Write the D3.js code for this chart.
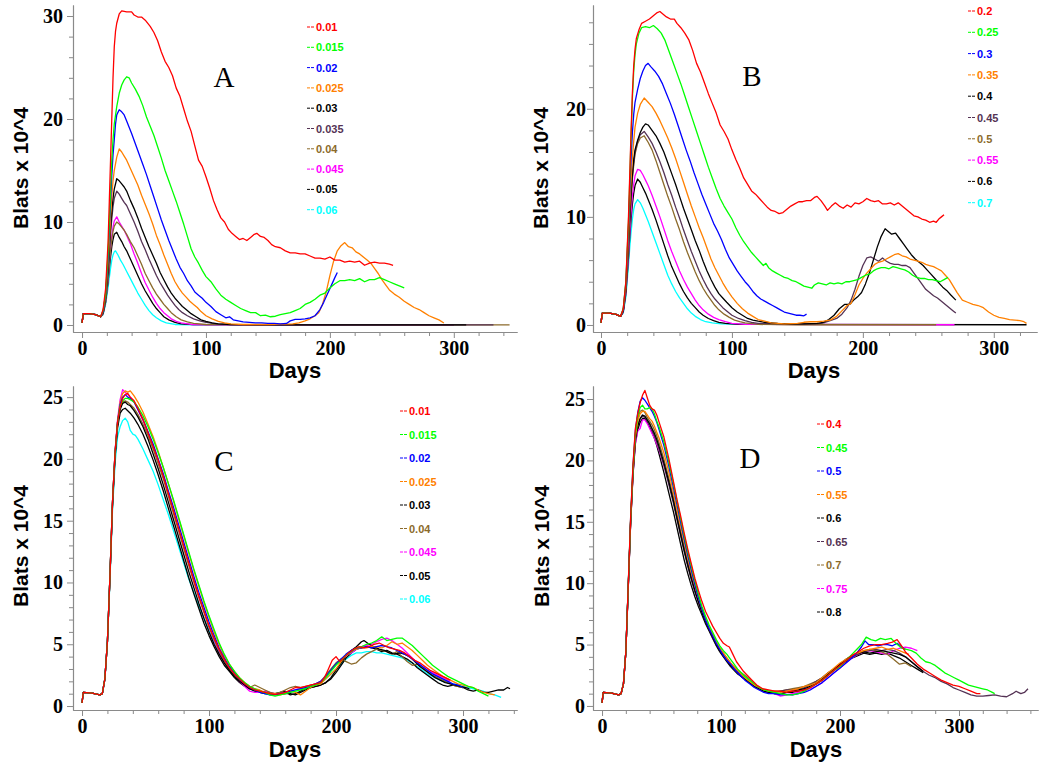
<!DOCTYPE html>
<html><head><meta charset="utf-8">
<script src="https://d3js.org/d3.v7.min.js"></script>
<style>
body{margin:0;background:#fff;}
svg{display:block;}
.tl{font-family:"Liberation Serif","Times New Roman",serif;font-weight:bold;font-size:20px;fill:#000;}
.ttl{font-family:"Liberation Sans",Arial,sans-serif;font-weight:bold;}
.lg{font-family:"Liberation Sans",Arial,sans-serif;font-weight:bold;font-size:11px;}
.let{font-family:"Liberation Serif","Times New Roman",serif;font-size:29px;}
</style></head><body>
<svg id="c" width="1050" height="771"></svg>
<script>
// ---------------- DATA ----------------
const xTicks = [0,100,200,300];
const xMinorAC = [20,40,60,80,120,140,160,180,220,240,260,280,320,340];
const xMinorB = [20,40,60,80,120,140,160,180,220,240,260,280,320];
const xMinorD = [20,40,60,80,120,140,160,180,220,240,260,280,320,340,360];
const yTicksA = [0,10,20,30];
const yTicksB = [0,10,20];
const yTicksCD = [0,5,10,15,20,25];
const yMinorA = [2,4,6,8,12,14,16,18,22,24,26,28];
const yMinorB = [2,4,6,8,12,14,16,18,22,24,26,28];
const yMinorCD = [1,2,3,4,6,7,8,9,11,12,13,14,16,17,18,19,21,22,23,24];

const labelsA = ["0.01","0.015","0.02","0.025","0.03","0.035","0.04","0.045","0.05","0.06"];
const labelsB = ["0.2","0.25","0.3","0.35","0.4","0.45","0.5","0.55","0.6","0.7"];
const labelsC = ["0.01","0.015","0.02","0.025","0.03","0.04","0.045","0.05","0.06"];
const labelsD = ["0.4","0.45","0.5","0.55","0.6","0.65","0.7","0.75","0.8"];

// shared initial segment (days 0-16)
const startAB = [[0,0.2],[1,1.1],[6,1.1],[11,1.0],[15,0.8]];
const startCD = [[0,0.25],[1,1.1],[8,1.05],[14,0.9],[16,1.0]];

// Panel A
const a1=[[17,1.5],[19,3.5],[21,8],[22,12],[23,16],[24,20],[25,24],[26,27],[27,28.5],[28,29.3],[30,30.2],[32,30.5],[36,30.4],[40,30.4],[42,30.1],[45,29.9],[48,29.9],[51,29.6],[55,29.0],[58,28.4],[61,27.6],[64,26.5],[67,25.6],[70,25.0],[73,24.2],[76,23.0],[79,22.2],[82,21.0],[85,19.8],[88,18.8],[91,17.4],[94,16.0],[97,15.4],[100,14.4],[103,13.3],[106,12.1],[109,11.2],[112,10.4],[115,10.0],[118,9.3],[121,8.9],[124,8.6],[127,8.3],[130,8.4],[133,8.2],[136,8.5],[139,8.8],[141,8.9],[144,8.6],[147,8.5],[150,8.2],[153,7.8],[156,7.6],[160,7.5],[164,7.2],[168,7.0],[172,7.0],[176,6.9],[180,6.9],[184,6.7],[188,6.5],[192,6.5],[196,6.4],[200,6.6],[204,6.3],[208,6.3],[212,6.1],[216,6.2],[220,6.1],[224,6.2],[228,5.8],[232,6.0],[236,6.1],[240,6.0],[244,6.0],[248,5.9],[251,5.8]];
const a2=[[17,1.4],[19,3],[21,7],[22,10],[23,13],[24,16],[25,18],[26,19.5],[28,21.2],[30,22.5],[32,23.3],[34,23.8],[36,24.1],[38,24.0],[40,23.5],[43,22.9],[46,22.2],[49,21.3],[52,20.2],[55,19.3],[58,18.4],[61,17.3],[64,16.2],[67,15.0],[70,14.0],[73,13.0],[76,12.0],[79,10.9],[82,9.8],[85,8.6],[88,7.4],[91,6.6],[94,6.0],[97,5.3],[100,4.7],[104,4.2],[108,3.5],[112,2.9],[116,2.5],[120,2.2],[124,1.9],[128,1.6],[132,1.4],[136,1.2],[140,1.2],[144,0.9],[148,0.95],[152,0.8],[156,0.85],[160,1.0],[164,1.1],[168,1.2],[172,1.4],[176,1.6],[180,2.0],[184,2.2],[188,2.5],[192,2.9],[196,3.1],[200,3.6],[204,4.0],[208,4.3],[212,4.3],[216,4.4],[220,4.3],[224,4.5],[228,4.2],[232,4.4],[236,4.4],[240,4.6],[244,4.4],[248,4.2],[252,4.0],[256,3.8],[260,3.6]];
const a3=[[17,1.3],[19,3],[21,6.5],[22,9.5],[23,12],[24,14.5],[25,16.5],[26,18],[27,19.5],[28,20.4],[30,20.9],[32,20.7],[34,20.4],[36,19.8],[38,19.2],[40,18.6],[43,17.6],[46,16.6],[49,15.6],[52,14.6],[55,13.5],[58,12.4],[61,11.3],[64,10.2],[67,9.2],[70,8.2],[73,7.3],[76,6.4],[79,5.6],[82,5.0],[85,4.3],[88,3.8],[91,3.2],[94,2.9],[97,2.6],[100,2.2],[104,1.8],[108,1.3],[112,1.0],[116,0.7],[119,0.8],[122,0.5],[126,0.4],[130,0.3],[135,0.25],[140,0.2],[145,0.2],[150,0.15],[155,0.15],[160,0.1],[165,0.15],[168,0.4],[172,0.55],[176,0.55],[180,0.6],[184,0.7],[188,0.9],[192,1.5],[195,2.2],[198,3.0],[201,3.8],[204,4.6],[206,5.1]];
const a4=[[17,1.3],[19,2.8],[21,6],[22,8],[23,10.5],[24,12.5],[25,14],[26,15],[28,16.3],[30,17.1],[32,16.8],[34,16.4],[36,16.0],[39,15.2],[42,14.4],[45,13.6],[48,12.6],[51,11.7],[54,10.8],[57,9.8],[60,8.7],[63,7.8],[66,6.8],[69,5.9],[72,5.0],[75,4.2],[78,3.6],[81,3.1],[84,2.7],[87,2.3],[90,2.0],[93,1.7],[96,1.3],[100,0.9],[105,0.6],[110,0.35],[115,0.2],[120,0.1],[130,0.05],[150,0.05],[170,0.1],[175,0.2],[180,0.4],[184,0.6],[188,0.9],[191,1.2],[194,2.0],[197,3.2],[200,4.8],[203,6.2],[206,7.2],[209,7.7],[212,8.0],[215,7.6],[218,7.5],[221,7.1],[224,6.9],[227,6.6],[230,6.3],[233,6.0],[236,5.5],[239,5.0],[242,4.4],[245,3.9],[248,3.4],[252,3.0],[256,2.7],[260,2.3],[264,2.0],[268,1.7],[272,1.5],[276,1.2],[280,0.9],[284,0.7],[288,0.5],[292,0.2]];
const a5=[[17,1.2],[19,2.6],[21,5.5],[22,7.5],[23,9.5],[24,11],[25,12.3],[26,13.2],[28,14.2],[30,14.0],[32,13.7],[34,13.4],[36,13.0],[39,12.1],[42,11.3],[45,10.4],[48,9.4],[51,8.5],[54,7.6],[57,6.8],[60,6.0],[63,5.1],[66,4.4],[69,3.7],[72,3.1],[75,2.6],[78,2.2],[81,1.8],[84,1.5],[88,1.1],[92,0.8],[96,0.5],[100,0.35],[105,0.2],[110,0.1],[120,0.05],[140,0.02],[310,0.02]];
const a6=[[17,1.2],[19,2.5],[21,5],[22,7],[23,8.8],[24,10.3],[25,11.5],[26,12.3],[28,13.0],[30,12.7],[32,12.3],[34,11.9],[36,11.6],[39,10.8],[42,10.0],[45,9.1],[48,8.1],[51,7.3],[54,6.4],[57,5.6],[60,4.8],[63,4.1],[66,3.5],[69,2.9],[72,2.4],[75,1.9],[78,1.5],[81,1.2],[85,0.9],[90,0.6],[95,0.4],[100,0.25],[108,0.1],[120,0.05],[200,0.02],[332,0.02]];
const a7=[[17,1.1],[19,2.3],[21,4.5],[22,6],[23,7.3],[24,8.3],[25,9.1],[26,9.6],[28,10.0],[30,9.8],[32,9.5],[34,9.2],[36,8.8],[39,8.1],[42,7.5],[45,6.7],[48,5.9],[51,5.0],[54,4.3],[57,3.6],[60,3.0],[63,2.5],[66,2.0],[69,1.6],[72,1.2],[76,0.8],[80,0.5],[85,0.3],[90,0.15],[100,0.05],[200,0.02],[345,0.02]];
const a8=[[17,1.1],[19,2.3],[21,4.5],[22,6],[23,7.4],[24,8.6],[25,9.5],[26,10.1],[28,10.5],[30,10.0],[32,9.6],[34,9.2],[36,8.7],[39,7.9],[42,6.9],[45,6.0],[48,5.0],[51,4.1],[54,3.4],[57,2.7],[60,2.1],[63,1.6],[66,1.2],[69,0.9],[72,0.6],[76,0.35],[80,0.2],[88,0.05],[100,0.02],[300,0.02]];
const a9=[[17,1.1],[19,2.2],[21,4.2],[22,5.5],[23,6.6],[24,7.6],[25,8.3],[26,8.8],[28,9.0],[30,8.5],[32,8.1],[34,7.6],[36,7.2],[39,6.4],[42,5.6],[45,4.8],[48,4.0],[51,3.3],[54,2.7],[57,2.1],[60,1.6],[63,1.2],[66,0.8],[70,0.5],[75,0.25],[80,0.1],[90,0.03],[300,0.02]];
const a10=[[17,1.0],[19,2.0],[21,3.6],[22,4.6],[23,5.5],[24,6.3],[25,6.8],[26,7.1],[27,7.2],[29,6.8],[31,6.3],[33,5.9],[36,5.2],[39,4.5],[42,3.8],[45,3.1],[48,2.5],[51,1.9],[54,1.4],[57,1.0],[60,0.7],[64,0.4],[68,0.2],[75,0.05],[90,0.02],[250,0.02]];

// Panel B
const b1=[[17,1.5],[19,4],[21,10],[22,14],[23,18],[24,21.5],[25,24],[26,25.5],[27,26.5],[29,27.3],[31,27.9],[34,28.1],[37,28.3],[40,28.6],[43,28.9],[45,29.0],[47,28.8],[50,28.5],[53,28.3],[56,28.3],[58,27.9],[61,27.5],[64,27.0],[67,26.4],[70,25.4],[73,24.2],[76,23.4],[79,22.4],[82,21.4],[85,20.5],[88,19.6],[91,18.5],[94,17.9],[97,17.2],[100,16.2],[103,15.3],[106,14.5],[109,13.6],[112,13.0],[115,12.4],[118,12.1],[121,11.7],[124,11.3],[127,10.9],[130,10.6],[133,10.5],[136,10.3],[139,10.4],[142,10.7],[145,11.0],[148,11.2],[151,11.4],[154,11.4],[157,11.5],[160,11.5],[163,11.8],[165,11.9],[168,11.5],[171,11.0],[173,10.6],[176,11.0],[179,11.3],[182,11.0],[185,10.8],[188,11.1],[191,10.9],[194,11.3],[197,11.2],[200,11.4],[203,11.7],[206,11.5],[209,11.4],[212,11.5],[215,11.2],[218,11.2],[221,11.3],[224,11.1],[227,11.3],[230,11.0],[233,10.7],[236,10.4],[239,10.1],[242,10.0],[245,9.8],[248,9.7],[251,9.5],[254,9.6],[256,9.5],[258,9.8],[260,10.0],[262,10.2]];
const b2=[[17,1.5],[19,4],[21,9.5],[22,13.5],[23,17.5],[24,21],[25,23.5],[26,25],[27,26],[29,27.0],[31,27.5],[34,27.6],[37,27.5],[40,27.7],[43,27.4],[46,27.0],[49,26.3],[52,25.3],[55,24.3],[58,23.3],[61,22.3],[64,21.2],[67,20.1],[70,19.0],[73,17.9],[76,16.8],[79,15.7],[82,14.6],[85,13.6],[88,12.6],[91,11.7],[94,11.0],[97,10.4],[100,9.8],[103,9.0],[106,8.3],[109,7.7],[112,7.2],[115,6.7],[118,6.3],[121,5.9],[124,5.5],[126,5.7],[128,5.3],[131,5.0],[134,4.8],[137,4.6],[140,4.4],[143,4.3],[146,4.1],[149,4.0],[152,3.8],[155,3.6],[158,3.5],[161,3.4],[163,3.7],[166,3.9],[169,3.8],[172,3.7],[175,3.9],[178,3.8],[181,3.9],[184,3.8],[187,4.0],[190,4.0],[193,4.1],[196,4.2],[199,4.4],[202,4.6],[205,4.7],[208,5.0],[211,5.2],[214,5.3],[217,5.3],[220,5.2],[223,5.4],[226,5.3],[229,5.2],[232,5.1],[235,4.9],[238,4.6],[241,4.4],[244,4.3],[247,4.3],[250,4.2],[253,4.2],[256,4.1],[259,4.0],[262,4.2],[265,4.4]];
const b3=[[17,1.4],[19,3.8],[21,9],[22,12.5],[23,15.5],[24,17.8],[25,19.5],[26,20.6],[28,21.8],[30,22.8],[32,23.5],[34,24.0],[36,24.2],[38,23.9],[41,23.5],[44,23.0],[47,22.3],[50,21.4],[53,20.5],[56,19.5],[59,18.4],[62,17.3],[65,16.2],[68,15.2],[71,14.1],[74,13.1],[77,12.1],[80,11.2],[83,10.3],[86,9.4],[89,8.7],[92,7.9],[95,7.0],[98,6.2],[101,5.6],[104,5.0],[107,4.5],[110,4.0],[113,3.6],[116,3.1],[119,2.7],[122,2.4],[125,2.2],[128,2.0],[131,1.8],[134,1.6],[137,1.4],[140,1.2],[143,1.1],[146,1.0],[149,0.9],[152,0.9],[155,0.85],[157,1.0]];
const b4=[[17,1.4],[19,3.5],[21,8],[22,11],[23,13.5],[24,15.5],[25,17],[26,18.3],[28,19.6],[30,20.4],[33,21.0],[36,20.6],[39,20.2],[42,19.6],[45,18.9],[48,18.1],[51,17.3],[54,16.4],[57,15.4],[60,14.3],[63,13.2],[66,12.1],[69,11.0],[72,10.0],[75,9.0],[78,8.1],[81,7.1],[84,6.1],[87,5.3],[90,4.6],[93,3.9],[96,3.3],[100,2.6],[104,2.0],[108,1.5],[112,1.1],[116,0.8],[120,0.5],[125,0.35],[130,0.2],[135,0.15],[140,0.1],[150,0.15],[155,0.25],[160,0.3],[165,0.3],[170,0.35],[175,0.45],[180,0.8],[184,1.3],[188,1.8],[191,2.0],[194,2.8],[197,3.7],[200,4.3],[203,4.8],[206,5.2],[209,5.6],[212,5.8],[215,5.9],[218,6.1],[221,6.3],[224,6.5],[227,6.6],[230,6.4],[233,6.3],[236,6.1],[239,6.0],[242,5.9],[245,5.8],[248,5.6],[251,5.5],[254,5.4],[257,5.2],[260,5.0],[263,4.6],[266,4.2],[269,3.6],[272,3.0],[276,2.3],[280,2.1],[284,1.9],[288,1.8],[292,1.6],[296,1.2],[300,0.9],[304,0.7],[308,0.6],[312,0.5],[316,0.45],[320,0.4],[323,0.3],[325,0.15]];
const b5=[[17,1.3],[19,3.3],[21,7.5],[22,10],[23,12.3],[24,14],[25,15.3],[26,16.2],[28,17.1],[30,17.8],[32,18.3],[34,18.6],[36,18.5],[39,18.0],[42,17.5],[45,16.8],[48,16.0],[51,15.0],[54,14.0],[57,13.0],[60,11.9],[63,10.8],[66,9.8],[69,8.8],[72,7.8],[75,6.9],[78,5.9],[81,5.0],[84,4.2],[87,3.5],[90,2.9],[93,2.5],[96,2.1],[100,1.6],[104,1.2],[108,0.9],[112,0.6],[116,0.45],[120,0.35],[125,0.25],[130,0.2],[135,0.15],[145,0.1],[155,0.1],[165,0.15],[170,0.25],[174,0.5],[178,0.9],[182,1.5],[186,1.9],[190,1.9],[193,2.3],[196,2.6],[199,3.0],[202,3.8],[205,4.8],[208,6.0],[211,7.2],[214,8.2],[217,8.9],[219,8.7],[222,8.4],[225,8.5],[228,8.0],[231,7.5],[234,7.0],[237,6.5],[240,6.1],[243,5.8],[246,5.5],[249,5.1],[252,4.7],[255,4.3],[258,3.9],[261,3.5],[264,3.2],[267,2.8],[271,2.3]];
const b6=[[17,1.3],[19,3.2],[21,7.3],[22,9.8],[23,12],[24,13.8],[25,15],[26,16],[28,17],[30,17.6],[33,17.9],[36,17.4],[39,16.8],[42,16.0],[45,15.1],[48,14.1],[51,13.0],[54,12.0],[57,10.9],[60,9.9],[63,8.8],[66,7.8],[69,6.8],[72,5.9],[75,5.0],[78,4.2],[81,3.5],[84,2.9],[87,2.4],[90,2.0],[93,1.6],[96,1.3],[100,0.9],[105,0.6],[110,0.4],[115,0.25],[120,0.15],[140,0.1],[165,0.1],[170,0.2],[175,0.4],[180,0.6],[184,1.0],[188,1.6],[191,2.3],[194,3.3],[197,4.5],[200,5.5],[203,6.2],[206,6.3],[209,6.1],[212,5.9],[215,6.2],[218,5.9],[221,5.7],[224,5.6],[227,5.6],[230,5.5],[233,5.5],[236,5.3],[239,4.8],[242,4.3],[245,3.8],[248,3.3],[251,3.0],[254,2.7],[257,2.5],[260,2.2],[263,1.9],[266,1.6],[269,1.3],[271,1.1]];
const b7=[[17,1.3],[19,3.2],[21,7.2],[22,9.6],[23,11.8],[24,13.5],[25,14.8],[26,15.8],[28,16.8],[30,17.3],[33,17.5],[36,16.9],[39,16.2],[42,15.2],[45,14.1],[48,13.0],[51,11.9],[54,10.9],[57,9.8],[60,8.8],[63,7.7],[66,6.7],[69,5.8],[72,4.9],[75,4.1],[78,3.4],[81,2.8],[84,2.3],[87,1.8],[90,1.4],[94,1.0],[98,0.7],[102,0.45],[106,0.3],[110,0.2],[120,0.05],[150,0.02],[256,0.02]];
const b8=[[17,1.2],[19,3.0],[21,6.5],[22,8.6],[23,10.5],[24,12],[25,13],[26,13.8],[28,14.4],[30,14.3],[32,13.9],[34,13.4],[36,12.9],[39,12.0],[42,11.0],[45,10.0],[48,8.9],[51,7.8],[54,6.8],[57,5.9],[60,5.0],[63,4.2],[66,3.5],[69,2.9],[72,2.3],[75,1.8],[78,1.4],[82,1.0],[86,0.7],[90,0.5],[95,0.3],[100,0.15],[110,0.05],[270,0.02]];
const b9=[[17,1.2],[19,2.9],[21,6.2],[22,8.2],[23,9.8],[24,11.2],[25,12.2],[26,12.9],[28,13.5],[30,13.2],[32,12.7],[34,12.2],[36,11.6],[39,10.7],[42,9.7],[45,8.6],[48,7.5],[51,6.4],[54,5.4],[57,4.6],[60,3.8],[63,3.1],[66,2.5],[69,2.0],[72,1.6],[75,1.2],[78,0.9],[82,0.6],[86,0.4],[90,0.25],[95,0.15],[105,0.05],[325,0.02]];
const b10=[[17,1.1],[19,2.6],[21,5.5],[22,7.2],[23,8.6],[24,9.8],[25,10.7],[26,11.2],[28,11.6],[30,11.3],[32,10.8],[34,10.2],[36,9.6],[39,8.6],[42,7.6],[45,6.6],[48,5.6],[51,4.6],[54,3.8],[57,3.1],[60,2.5],[63,2.0],[66,1.5],[69,1.1],[72,0.8],[76,0.5],[80,0.3],[85,0.2],[92,0.1],[110,0.05]];

// Panel C
const c1=[[18,2.2],[20,5.2],[22,10.5],[24,16.5],[26,20.5],[28,23],[30,24.2],[32,24.9],[34,25.2],[36,25.3],[38,25.0],[41,24.7],[44,24.1],[48,23.2],[52,22.1],[56,21.0],[60,19.9],[64,18.6],[68,17.2],[72,15.8],[76,14.4],[80,13.0],[84,11.6],[88,10.2],[92,8.9],[96,7.7],[100,6.5],[104,5.5],[108,4.6],[112,3.8],[116,3.1],[120,2.6],[124,2.2],[128,1.8],[132,1.5],[136,1.3],[140,1.2],[144,1.1],[148,1.0],[152,0.95],[156,1.0],[160,1.1],[164,1.3],[168,1.5],[172,1.5],[176,1.6],[180,1.7],[184,1.8],[188,1.9],[191,2.3],[194,3.0],[197,3.7],[200,4.0],[203,3.6],[206,3.9],[210,4.3],[214,4.6],[218,4.8],[222,4.7],[226,4.8],[230,5.0],[234,5.1],[238,4.9],[242,4.7],[246,4.6],[250,4.5],[254,4.3],[258,4.0],[262,3.7],[266,3.5],[270,3.2],[274,2.9],[278,2.7],[282,2.5],[286,2.3],[290,2.1]];
const c2=[[18,2.2],[20,5.2],[22,10.5],[24,16.5],[26,20.5],[28,23],[30,24.3],[32,24.7],[34,24.9],[36,24.9],[38,24.8],[41,24.6],[44,24.2],[48,23.5],[52,22.6],[56,21.6],[60,20.5],[64,19.3],[68,18.0],[72,16.7],[76,15.3],[80,13.9],[84,12.5],[88,11.1],[92,9.8],[96,8.5],[100,7.3],[104,6.2],[108,5.1],[112,4.2],[116,3.4],[120,2.8],[124,2.3],[128,1.9],[132,1.6],[136,1.4],[140,1.2],[144,1.1],[148,0.9],[152,0.8],[156,0.9],[160,1.0],[164,1.1],[168,1.2],[172,1.3],[176,1.4],[180,1.6],[184,1.7],[188,1.9],[192,2.3],[196,2.8],[200,3.3],[204,3.7],[208,4.1],[212,4.4],[216,4.7],[220,4.8],[224,5.0],[228,5.1],[232,5.3],[236,5.6],[240,5.3],[244,5.4],[248,5.5],[252,5.5],[256,5.2],[260,4.9],[264,4.5],[268,4.1],[272,3.7],[276,3.3],[280,3.0],[284,2.7],[288,2.4],[292,2.2],[296,2.0],[300,1.8],[304,1.6],[308,1.5],[312,1.2],[316,1.0],[320,0.8]];
const c3=[[18,2.2],[20,5.2],[22,10.5],[24,16.5],[26,20.5],[28,23],[30,24.4],[32,25.0],[34,25.2],[36,25.0],[38,24.9],[41,24.6],[44,24.0],[48,23.2],[52,22.2],[56,21.2],[60,20.0],[64,18.8],[68,17.4],[72,16.1],[76,14.7],[80,13.3],[84,11.9],[88,10.5],[92,9.2],[96,8.0],[100,6.8],[104,5.7],[108,4.7],[112,3.9],[116,3.2],[120,2.7],[124,2.2],[128,1.8],[132,1.5],[136,1.3],[140,1.1],[144,1.0],[148,0.9],[152,0.9],[156,1.0],[160,1.1],[164,1.2],[168,1.3],[172,1.4],[176,1.5],[180,1.6],[184,1.8],[188,2.0],[192,2.4],[196,2.9],[200,3.4],[204,3.8],[208,4.2],[212,4.5],[216,4.7],[220,4.7],[224,4.8],[228,4.7],[232,4.8],[236,4.9],[240,4.8],[244,4.7],[248,4.5],[252,4.3],[256,4.1],[260,3.8],[264,3.5],[268,3.2],[272,2.9],[276,2.6],[280,2.4],[284,2.2],[288,2.0],[292,1.8],[296,1.7],[300,1.5]];
const c4=[[18,2.2],[20,5.2],[22,10.5],[24,16.5],[26,20.5],[28,23],[30,24.6],[32,25.3],[34,25.5],[36,25.4],[38,25.5],[41,25.1],[44,24.6],[48,23.8],[52,22.8],[56,21.8],[60,20.6],[64,19.3],[68,18.0],[72,16.6],[76,15.2],[80,13.8],[84,12.4],[88,11.0],[92,9.7],[96,8.4],[100,7.2],[104,6.0],[108,5.0],[112,4.1],[116,3.4],[120,2.8],[124,2.3],[128,1.9],[132,1.6],[136,1.4],[140,1.3],[144,1.1],[148,1.0],[152,1.0],[156,0.9],[160,1.0],[164,1.2],[168,1.1],[172,0.9],[176,1.2],[180,1.5],[184,1.7],[188,1.8],[192,2.2],[196,2.6],[200,3.0],[204,3.6],[208,4.2],[212,4.5],[216,4.6],[220,4.7],[224,4.7],[228,4.8],[232,4.8],[236,4.7],[240,4.9],[244,5.2],[248,5.0],[252,5.1],[256,4.8],[260,4.5],[264,4.1],[268,3.7],[272,3.3],[276,3.0],[280,2.7],[284,2.4],[288,2.2],[292,2.0],[296,1.8],[300,1.7],[304,1.6],[308,1.5],[312,1.3],[316,1.1],[320,1.0],[325,0.9]];
const c5=[[18,2.2],[20,5.2],[22,10.5],[24,16.3],[26,20.3],[28,22.8],[30,24.0],[32,24.5],[34,24.6],[36,24.4],[38,24.3],[41,23.9],[44,23.4],[48,22.6],[52,21.6],[56,20.4],[60,19.2],[64,17.9],[68,16.5],[72,15.1],[76,13.7],[80,12.3],[84,10.9],[88,9.6],[92,8.3],[96,7.1],[100,6.0],[104,5.0],[108,4.2],[112,3.5],[116,2.9],[120,2.4],[124,2.0],[128,1.7],[132,1.4],[136,1.3],[140,1.2],[144,1.1],[148,1.0],[152,0.95],[156,0.95],[160,1.0],[164,1.0],[168,0.9],[172,1.1],[176,1.3],[180,1.5],[184,1.6],[188,1.7],[192,1.9],[196,2.3],[200,2.9],[204,3.5],[208,4.1],[212,4.5],[216,4.8],[220,5.2],[222,5.3],[226,5.0],[230,4.8],[234,4.6],[238,4.5],[242,4.3],[246,4.2],[250,4.3],[254,4.2],[258,4.0],[262,3.6],[266,3.2],[270,2.9],[274,2.6],[278,2.3],[282,2.1],[286,1.9],[290,1.8],[294,1.7],[298,1.6],[302,1.5],[305,1.4]];
const c6=[[18,2.2],[20,5.2],[22,10.5],[24,16.4],[26,20.4],[28,22.9],[30,24.1],[32,24.6],[34,24.7],[36,24.6],[38,24.4],[41,24.1],[44,23.6],[48,22.8],[52,21.9],[56,20.8],[60,19.6],[64,18.4],[68,17.0],[72,15.6],[76,14.2],[80,12.8],[84,11.4],[88,10.1],[92,8.8],[96,7.6],[100,6.4],[104,5.4],[108,4.5],[112,3.7],[116,3.0],[120,2.5],[124,2.1],[128,1.7],[132,1.5],[136,1.7],[140,1.5],[144,1.3],[148,1.1],[152,1.0],[156,1.1],[160,1.3],[164,1.5],[168,1.6],[172,1.5],[176,1.6],[180,1.7],[184,1.8],[188,2.0],[192,2.5],[196,3.0],[200,3.5],[204,3.8],[208,3.6],[212,3.4],[216,3.5],[220,3.9],[224,4.2],[228,4.4],[232,4.6],[236,4.5],[240,4.4],[244,4.2],[248,4.4],[252,4.0],[256,3.6],[260,3.3],[264,3.4],[268,3.1],[272,2.8],[276,2.5],[280,2.3],[284,2.1],[288,1.9],[292,1.7],[296,1.6],[300,1.5]];
const c7=[[18,2.2],[20,5.2],[22,10.5],[24,16.5],[26,20.6],[28,23.2],[30,24.8],[32,25.6],[34,25.4],[36,25.2],[38,25.0],[41,24.6],[44,24.0],[48,23.1],[52,22.1],[56,21.0],[60,19.8],[64,18.5],[68,17.1],[72,15.7],[76,14.3],[80,12.9],[84,11.5],[88,10.1],[92,8.8],[96,7.6],[100,6.4],[104,5.3],[108,4.4],[112,3.6],[116,3.0],[120,2.5],[124,2.0],[128,1.6],[132,1.2],[136,1.1],[140,1.1],[144,1.2],[148,1.1],[152,1.0],[156,1.0],[160,1.1],[164,1.2],[168,1.3],[172,1.4],[176,1.5],[180,1.7],[184,1.8],[188,2.0],[192,2.4],[196,2.9],[200,3.4],[204,3.8],[208,4.1],[212,4.3],[216,4.6],[220,4.8],[224,4.9],[228,5.0],[232,5.2],[236,5.4],[240,5.5],[244,5.3],[248,5.0],[252,4.7],[256,4.3],[260,3.9],[264,3.5],[268,3.2],[272,2.9],[276,2.7],[280,2.5],[284,2.3],[288,2.1],[290,2.0]];
const c8=[[18,2.2],[20,5.2],[22,10.4],[24,16.2],[26,20.1],[28,22.5],[30,23.7],[32,24.0],[34,24.1],[36,23.9],[38,23.7],[41,23.3],[44,22.8],[48,22.0],[52,21.0],[56,19.9],[60,18.7],[64,17.4],[68,16.0],[72,14.6],[76,13.2],[80,11.8],[84,10.4],[88,9.1],[92,7.9],[96,6.7],[100,5.7],[104,4.8],[108,4.0],[112,3.3],[116,2.8],[120,2.3],[124,1.9],[128,1.6],[132,1.4],[136,1.2],[140,1.1],[144,1.0],[148,1.0],[152,1.0],[156,1.1],[160,1.2],[164,0.9],[168,1.0],[172,1.2],[176,1.4],[180,1.5],[184,1.6],[188,1.7],[192,1.9],[196,2.2],[200,2.7],[204,3.3],[208,3.9],[212,4.3],[216,4.6],[220,4.7],[224,4.8],[228,4.7],[232,4.6],[236,4.4],[240,4.5],[244,4.3],[248,4.2],[252,4.0],[256,3.8],[260,3.5],[264,3.1],[268,2.8],[272,2.5],[276,2.2],[280,1.9],[284,1.7],[288,1.6],[292,1.7],[296,1.6],[300,1.5],[304,1.3],[308,1.2],[312,1.3],[316,1.1],[320,1.1],[324,1.2],[328,1.3],[332,1.3],[335,1.5],[337,1.4]];
const c9=[[18,2.2],[20,5.1],[22,10.2],[24,15.8],[26,19.6],[28,21.8],[30,22.6],[32,23.1],[34,23.3],[36,23.0],[38,22.3],[40,22.0],[42,21.9],[44,21.6],[48,20.8],[52,19.9],[56,19.0],[60,17.9],[64,16.7],[68,15.5],[72,14.2],[76,12.9],[80,11.6],[84,10.3],[88,9.2],[92,8.1],[96,7.1],[100,6.1],[104,5.2],[108,4.4],[112,3.7],[116,3.1],[120,2.6],[124,2.1],[128,1.7],[132,1.4],[136,1.2],[140,1.1],[144,1.0],[148,0.9],[152,0.9],[156,0.95],[160,1.0],[164,1.1],[168,1.2],[172,1.3],[176,1.4],[180,1.5],[184,1.7],[188,1.9],[192,2.2],[196,2.6],[200,3.0],[204,3.4],[208,3.8],[212,4.1],[216,4.3],[220,4.3],[224,4.4],[228,4.4],[232,4.3],[236,4.3],[240,4.2],[244,4.1],[248,4.0],[252,3.9],[256,3.7],[260,3.5],[264,3.2],[268,2.9],[272,2.6],[276,2.4],[280,2.2],[284,2.0],[288,1.9],[292,1.8],[296,1.7],[300,1.6],[304,1.5],[308,1.4],[312,1.3],[316,1.2],[320,1.0],[325,0.9],[330,0.7]];

// Panel D
const e1=[[18,1.8],[20,4.4],[22,9.8],[24,15.3],[26,19.6],[28,22.6],[30,23.8],[32,24.7],[34,25.3],[36,25.7],[38,25.1],[40,24.5],[42,24.2],[44,24.1],[46,23.7],[48,23.1],[52,21.9],[56,20.2],[60,18.3],[63,16.8],[66,15.5],[69,14.1],[72,12.8],[75,11.6],[78,10.4],[81,9.4],[84,8.5],[87,7.7],[90,7.1],[93,6.5],[96,6.0],[99,5.5],[102,5.1],[105,4.9],[107,4.8],[110,4.2],[113,3.6],[116,3.2],[119,2.8],[122,2.5],[126,2.1],[130,1.7],[135,1.4],[140,1.3],[145,1.2],[150,1.2],[155,1.1],[160,1.2],[165,1.2],[170,1.3],[175,1.5],[180,1.8],[185,2.1],[190,2.5],[195,2.9],[200,3.3],[205,3.7],[210,4.1],[215,4.4],[220,4.7],[225,4.9],[230,5.0],[235,5.0],[240,5.1],[244,5.2],[248,5.4],[251,5.0],[255,4.4],[260,3.9],[265,3.4],[270,3.0],[275,2.7],[280,2.4],[285,2.1],[290,1.9],[295,1.7],[300,1.6],[305,1.4],[310,1.2],[315,1.0],[318,1.0]];
const e2=[[18,1.8],[20,4.4],[22,9.7],[24,15.1],[26,19.3],[28,22.2],[30,23.6],[32,24.3],[34,24.5],[36,24.2],[38,24.2],[40,24.3],[42,24.2],[44,23.8],[46,23.2],[48,22.7],[52,21.5],[56,19.9],[60,18.1],[63,16.7],[66,15.3],[69,13.9],[72,12.6],[75,11.4],[78,10.2],[81,9.1],[84,8.1],[87,7.3],[90,6.6],[93,6.0],[96,5.4],[99,4.9],[102,4.5],[105,4.2],[108,3.8],[111,3.4],[114,3.0],[117,2.7],[120,2.4],[124,2.1],[128,1.8],[132,1.5],[136,1.3],[140,1.2],[145,1.1],[150,1.0],[155,0.9],[160,0.9],[165,1.0],[170,1.2],[175,1.5],[180,1.8],[185,2.1],[190,2.5],[195,2.9],[200,3.2],[205,3.7],[210,4.2],[214,4.6],[218,5.0],[222,5.6],[226,5.4],[230,5.3],[234,5.5],[238,5.4],[243,5.5],[247,5.1],[252,4.7],[256,4.6],[260,4.5],[264,4.3],[268,3.9],[272,3.6],[276,3.5],[280,3.3],[284,3.0],[288,2.7],[292,2.5],[296,2.3],[300,2.1],[304,1.9],[308,1.7],[312,1.6],[316,1.5],[320,1.4],[324,1.3],[328,1.1],[330,1.0]];
const e3=[[18,1.8],[20,4.4],[22,9.7],[24,15.2],[26,19.5],[28,22.4],[30,23.9],[32,24.8],[34,25.1],[36,24.9],[38,24.6],[40,24.3],[42,24.0],[44,23.6],[46,23.1],[48,22.5],[52,21.2],[56,19.6],[60,17.8],[63,16.4],[66,15.0],[69,13.6],[72,12.3],[75,11.1],[78,9.9],[81,8.8],[84,7.9],[87,7.0],[90,6.3],[93,5.7],[96,5.1],[99,4.6],[102,4.1],[105,3.7],[108,3.4],[111,3.0],[114,2.7],[117,2.4],[120,2.1],[124,1.8],[128,1.5],[132,1.3],[136,1.1],[140,1.0],[145,1.0],[150,0.9],[155,0.95],[160,0.9],[165,1.0],[170,1.1],[175,1.3],[180,1.6],[185,1.9],[190,2.3],[195,2.7],[200,3.1],[205,3.5],[210,3.9],[214,4.3],[218,4.8],[221,5.3],[224,5.0],[228,5.0],[232,4.9],[236,5.0],[240,5.0],[244,4.9],[248,5.1],[252,4.8],[255,4.6]];
const e4=[[18,1.8],[20,4.4],[22,9.6],[24,15.0],[26,19.1],[28,21.9],[30,23.2],[32,23.8],[34,24.0],[36,24.0],[38,23.7],[40,23.4],[42,23.2],[44,22.8],[46,22.3],[48,21.8],[52,20.6],[56,19.1],[60,17.4],[63,16.0],[66,14.7],[69,13.4],[72,12.1],[75,10.9],[78,9.8],[81,8.8],[84,7.9],[87,7.1],[90,6.4],[93,5.8],[96,5.2],[99,4.7],[102,4.3],[105,3.9],[108,3.5],[111,3.2],[114,2.9],[117,2.6],[120,2.3],[124,2.0],[128,1.7],[132,1.5],[136,1.3],[140,1.2],[145,1.2],[150,1.1],[155,1.2],[160,1.3],[165,1.4],[170,1.6],[175,1.7],[180,1.9],[185,2.3],[190,2.7],[195,3.1],[200,3.5],[205,3.8],[210,4.1],[215,4.3],[220,4.5],[225,4.6],[230,4.7],[235,4.8],[240,4.6],[245,4.7],[250,4.5],[255,4.3],[258,4.2]];
const e5=[[18,1.8],[20,4.4],[22,9.6],[24,14.9],[26,18.9],[28,21.6],[30,22.8],[32,23.4],[34,23.7],[36,23.6],[38,23.3],[40,23.0],[42,22.6],[44,22.2],[46,21.7],[48,21.1],[52,19.8],[56,18.3],[60,16.7],[63,15.3],[66,14.0],[69,12.7],[72,11.5],[75,10.4],[78,9.4],[81,8.5],[84,7.6],[87,6.9],[90,6.2],[93,5.6],[96,5.0],[99,4.5],[102,4.1],[105,3.7],[108,3.3],[111,3.0],[114,2.7],[117,2.4],[120,2.2],[124,1.9],[128,1.6],[132,1.4],[136,1.2],[140,1.1],[145,1.0],[150,1.0],[155,1.1],[160,1.2],[165,1.3],[170,1.4],[175,1.6],[180,1.9],[185,2.2],[190,2.6],[195,3.0],[200,3.4],[205,3.8],[210,4.1],[215,4.3],[220,4.4],[225,4.3],[230,4.4],[235,4.5],[240,4.4],[245,4.3],[250,4.2],[255,4.0],[260,3.6],[265,3.2],[270,2.8]];
const e6=[[18,1.8],[20,4.4],[22,9.6],[24,14.9],[26,19.0],[28,21.7],[30,22.9],[32,23.4],[34,23.6],[36,23.5],[38,23.2],[40,22.9],[42,22.5],[44,22.0],[46,21.5],[48,20.9],[52,19.6],[56,18.1],[60,16.5],[63,15.2],[66,13.9],[69,12.6],[72,11.4],[75,10.3],[78,9.3],[81,8.4],[84,7.6],[87,6.9],[90,6.2],[93,5.6],[96,5.0],[99,4.5],[102,4.1],[105,3.7],[108,3.3],[111,3.0],[114,2.7],[117,2.4],[120,2.2],[124,1.9],[128,1.6],[132,1.4],[136,1.2],[140,1.1],[145,1.1],[150,1.2],[155,1.3],[160,1.3],[165,1.4],[170,1.5],[175,1.7],[180,2.0],[185,2.3],[190,2.7],[195,3.0],[200,3.4],[205,3.7],[210,4.0],[215,4.2],[220,4.4],[225,4.5],[230,4.6],[235,4.5],[240,4.6],[245,4.5],[250,4.3],[255,4.0],[260,3.6],[265,3.2],[270,2.8],[275,2.5],[280,2.3],[285,2.0],[290,1.8],[295,1.5],[300,1.3],[305,1.1],[310,0.9],[315,0.8],[320,0.8],[325,0.85],[330,0.9],[335,0.8],[340,0.75],[345,1.0],[348,1.2],[352,1.0],[355,1.1],[358,1.4]];
const e7=[[18,1.8],[20,4.4],[22,9.6],[24,15.0],[26,19.2],[28,22.0],[30,23.4],[32,24.0],[34,24.1],[36,23.9],[38,23.5],[40,23.2],[42,22.9],[44,22.5],[46,22.0],[48,21.4],[52,20.1],[56,18.6],[60,17.0],[63,15.6],[66,14.3],[69,13.0],[72,11.8],[75,10.7],[78,9.7],[81,8.8],[84,7.9],[87,7.1],[90,6.4],[93,5.8],[96,5.2],[99,4.7],[102,4.3],[105,3.9],[108,3.5],[111,3.2],[114,2.9],[117,2.7],[120,2.5],[124,2.2],[128,1.8],[132,1.5],[136,1.3],[140,1.2],[145,1.2],[150,1.2],[155,1.3],[160,1.4],[165,1.5],[170,1.6],[175,1.8],[180,2.0],[185,2.3],[190,2.7],[195,3.0],[200,3.4],[205,3.7],[210,4.0],[215,4.3],[220,4.5],[225,4.6],[230,4.5],[235,4.4],[240,4.2],[245,3.8],[250,3.4],[255,3.5],[260,3.2]];
const e8=[[18,1.8],[20,4.4],[22,9.5],[24,14.8],[26,18.8],[28,21.3],[30,22.4],[32,22.6],[34,23.3],[36,23.3],[38,23.0],[40,22.6],[42,22.2],[44,21.8],[46,21.3],[48,20.8],[52,19.6],[56,18.2],[60,16.7],[63,15.4],[66,14.1],[69,12.8],[72,11.6],[75,10.5],[78,9.5],[81,8.6],[84,7.8],[87,7.0],[90,6.3],[93,5.6],[96,5.1],[99,4.6],[102,4.2],[105,3.8],[108,3.4],[111,3.1],[114,2.8],[117,2.5],[120,2.2],[124,1.9],[128,1.6],[132,1.4],[136,1.2],[140,1.1],[145,1.0],[150,0.8],[155,0.9],[160,1.0],[165,1.1],[170,1.2],[175,1.4],[180,1.6],[185,1.9],[190,2.3],[195,2.7],[200,3.1],[205,3.5],[210,3.9],[215,4.2],[220,4.4],[225,4.5],[230,4.4],[235,4.3],[240,4.2],[245,4.5],[250,4.7],[255,4.8],[260,4.7],[265,4.5]];
const e9=[[18,1.8],[20,4.4],[22,9.5],[24,14.8],[26,18.8],[28,21.4],[30,22.5],[32,23.1],[34,23.4],[36,23.4],[38,23.1],[40,22.7],[42,22.3],[44,21.8],[46,21.2],[48,20.5],[52,19.0],[56,17.4],[60,15.8],[63,14.5],[66,13.2],[69,11.9],[72,10.8],[75,9.8],[78,8.9],[81,8.1],[84,7.4],[87,6.7],[90,6.1],[93,5.5],[96,4.9],[99,4.4],[102,4.0],[105,3.6],[108,3.2],[111,2.9],[114,2.6],[117,2.4],[120,2.2],[124,1.9],[128,1.6],[132,1.4],[136,1.2],[140,1.1],[145,1.0],[150,1.0],[155,1.1],[160,1.1],[165,1.2],[170,1.3],[175,1.5],[180,1.8],[185,2.1],[190,2.5],[195,2.9],[200,3.3],[205,3.6],[210,3.9],[215,4.1],[220,4.3],[225,4.2],[230,4.3],[235,4.2],[240,4.3],[245,4.1],[250,3.9],[255,3.6],[260,3.3],[265,3.0],[270,2.7]];

const seriesA=[a1,a2,a3,a4,a5,a6,a7,a8,a9,a10];
const seriesB=[b1,b2,b3,b4,b5,b6,b7,b8,b9,b10];
const seriesC=[c1,c2,c3,c4,c5,c6,c7,c8,c9];
const seriesD=[e1,e2,e3,e4,e5,e6,e7,e8,e9];

// ---------------- STYLE / LAYOUT ----------------
const RED="#ff0000",GRN="#00ff00",BLU="#0000ff",ORG="#ff8000",BLK="#000000",PUR="#553355",BRN="#8b6a2b",MAG="#ff00ff",CYN="#00ffff";
const colorsAB=[RED,GRN,BLU,ORG,BLK,PUR,BRN,MAG,BLK,CYN];
const colorsC=[RED,GRN,BLU,ORG,BLK,BRN,MAG,BLK,CYN];
const colorsD=[RED,GRN,BLU,ORG,BLK,PUR,BRN,MAG,BLK];

const panels=[
 {name:"A",series:seriesA,labels:labelsA,colors:colorsAB,start:startAB,
  xr:[73,517],xd:[-7.3,351],yr:[332,5],yd:[-0.68,31.07],yT:yTicksA,yM:yMinorA,xM:xMinorAC,ypad:4,
  leg:{x:307,y0:27,dy:20.3},let:[224,87],ylab:[28,168],xlab:[295,378]},
 {name:"B",series:seriesB,labels:labelsB,colors:colorsAB,start:startAB,
  xr:[593,1037],xd:[-6.1,333],yr:[332,5],yd:[-0.65,29.6],yT:yTicksB,yM:yMinorB,xM:xMinorB,ypad:1,
  leg:{x:968,y0:11,dy:21.3},let:[752,86],ylab:[548,168],xlab:[814,378]},
 {name:"C",series:seriesC,labels:labelsC,colors:colorsC,start:startCD,
  xr:[73,517],xd:[-7.1,342.5],yr:[710,386],yd:[-0.32,25.9],yT:yTicksCD,yM:yMinorCD,xM:xMinorAC,ypad:4,
  leg:{x:400,y0:411,dy:23.5},let:[224,471],ylab:[28,546],xlab:[295,757]},
 {name:"D",series:seriesD,labels:labelsD,colors:colorsD,start:startCD,
  xr:[593,1038],xd:[-7.6,366.4],yr:[710,386],yd:[-0.33,26.06],yT:yTicksCD,yM:yMinorCD,xM:xMinorD,ypad:2,
  leg:{x:817,y0:424,dy:23.5},let:[750,468],ylab:[549,546],xlab:[816,757]}
];

const svg=d3.select("#c");
const AX="#8a8a8a";

panels.forEach(p=>{
  const x=d3.scaleLinear().domain(p.xd).range(p.xr);
  const y=d3.scaleLinear().domain(p.yd).range(p.yr);
  const g=svg.append("g");
  const axY=p.yr[0], axX=p.xr[0];

  g.append("g").attr("transform",`translate(0,${axY})`)
   .call(d3.axisBottom(x).tickValues(p.xM).tickSize(4).tickSizeOuter(0).tickFormat(""))
   .call(s=>{s.selectAll("line").attr("stroke",AX);s.select(".domain").attr("stroke",AX);});
  g.append("g").attr("transform",`translate(0,${axY})`)
   .call(d3.axisBottom(x).tickValues(xTicks).tickSize(6).tickSizeOuter(0).tickPadding(3))
   .call(s=>{s.selectAll("line").attr("stroke",AX);s.select(".domain").attr("stroke",AX).attr("stroke-width",1.2);
     s.selectAll("text").attr("class","tl").attr("fill","#000").attr("font-size",null).attr("font-family",null);});
  g.append("g").attr("transform",`translate(${axX},0)`)
   .call(d3.axisLeft(y).tickValues(p.yM).tickSize(4).tickSizeOuter(0).tickFormat(""))
   .call(s=>{s.selectAll("line").attr("stroke",AX);s.select(".domain").attr("stroke",AX);});
  g.append("g").attr("transform",`translate(${axX},0)`)
   .call(d3.axisLeft(y).tickValues(p.yT).tickSize(6).tickSizeOuter(0).tickPadding(p.ypad))
   .call(s=>{s.selectAll("line").attr("stroke",AX);s.select(".domain").attr("stroke",AX).attr("stroke-width",1.2);
     s.selectAll("text").attr("class","tl").attr("fill","#000").attr("font-size",null).attr("font-family",null);});
  g.selectAll(".tick text").attr("class","tl");
  g.selectAll("g").attr("font-size",null).attr("font-family",null);

  const line=d3.line().x(d=>x(d[0])).y(d=>y(d[1]));
  const order=p.series.map((s,i)=>i).reverse();
  order.forEach(i=>{
    g.append("path").datum(p.start.concat(p.series[i]))
     .attr("d",line).attr("fill","none").attr("stroke",p.colors[i])
     .attr("stroke-width",1.3).attr("stroke-linejoin","round");
  });

  p.labels.forEach((lab,i)=>{
    const yy=p.leg.y0+i*p.leg.dy;
    g.append("line").attr("x1",p.leg.x).attr("x2",p.leg.x+7).attr("y1",yy).attr("y2",yy)
     .attr("stroke",p.colors[i]).attr("stroke-width",1).attr("stroke-dasharray","3,1");
    g.append("text").attr("class","lg").attr("x",p.leg.x+9).attr("y",yy+4).attr("fill",p.colors[i]).text(lab);
  });

  g.append("text").attr("class","let").attr("x",p.let[0]).attr("y",p.let[1]).attr("text-anchor","middle").text(p.name);
  g.append("text").attr("class","ttl").attr("transform",`translate(${p.ylab[0]},${p.ylab[1]}) rotate(-90)`)
   .attr("text-anchor","middle").style("font-size","21px").text("Blats x 10^4");
  g.append("text").attr("class","ttl").attr("x",p.xlab[0]).attr("y",p.xlab[1])
   .attr("text-anchor","middle").style("font-size","22px").text("Days");
});
</script>
</body></html>
